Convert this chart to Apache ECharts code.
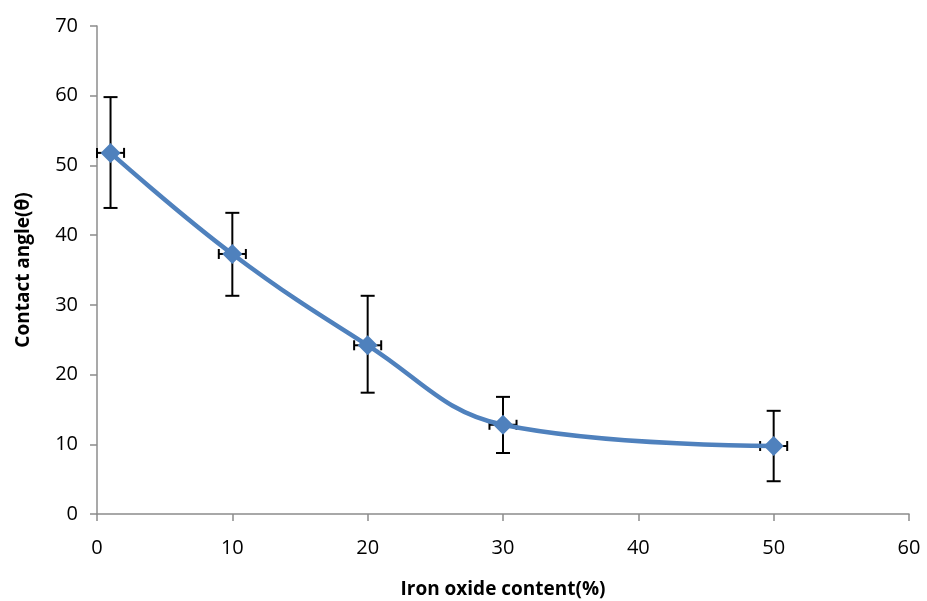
<!DOCTYPE html>
<html>
<head>
<meta charset="utf-8">
<script src="https://cdn.jsdelivr.net/npm/echarts@6/dist/echarts.min.js"></script>
<style>
    html, body { margin: 0; padding: 0; background: #fff; }
    #chart { width: 927px; height: 601px; }
</style>
</head>
<body>
<div id="chart"></div>
<script>
// Data
var ironOxide = [1, 10, 20, 30, 50];
var contactAngle = [51.8, 37.3, 24.2, 12.8, 9.75];
var angleLow = [43.9, 31.3, 17.4, 8.75, 4.7];
var angleHigh = [59.8, 43.2, 31.3, 16.8, 14.8];
var xError = [1, 1, 1, 1, 1];

var points = ironOxide.map(function(x, i) { return [x, contactAngle[i]]; });
var errors = ironOxide.map(function(x, i) {
    return [x, contactAngle[i], angleLow[i], angleHigh[i], xError[i]];
});

var chart = echarts.init(document.getElementById('chart'));

var axisText = { color: '#000', fontSize: 20, fontFamily: 'Open Sans, sans-serif' };

chart.setOption({
    animation: false,
    grid: { left: 97, right: 18, top: 26, bottom: 87, outerBoundsMode: 'none' },
    xAxis: {
        type: 'value',
        min: 0, max: 60, interval: 10,
        name: 'Iron oxide content(%)',
        nameLocation: 'middle',
        nameGap: 66,
        nameTextStyle: { color: '#000', fontSize: 19, fontWeight: 'bold', fontFamily: 'Open Sans, sans-serif' },
        axisLine: { onZero: false, lineStyle: { color: '#8c8c8c', width: 1.5 } },
        axisTick: { inside: false, length: 7, lineStyle: { color: '#8c8c8c', width: 1.5 } },
        axisLabel: Object.assign({ margin: 24 }, axisText),
        splitLine: { show: false }
    },
    yAxis: {
        type: 'value',
        min: 0, max: 70, interval: 10,
        name: 'Contact angle(θ)',
        nameLocation: 'middle',
        nameGap: 64,
        nameTextStyle: { color: '#000', fontSize: 19, fontWeight: 'bold', fontFamily: 'Open Sans, sans-serif' },
        axisLine: { show: true, lineStyle: { color: '#8c8c8c', width: 1.5 } },
        axisTick: { show: true, length: 7, lineStyle: { color: '#8c8c8c', width: 1.5 } },
        axisLabel: Object.assign({ margin: 19 }, axisText),
        splitLine: { show: false }
    },
    series: [
        {
            type: 'line',
            data: points,
            smooth: 0.4,
            symbol: 'diamond',
            symbolSize: 20,
            itemStyle: { color: '#4F81BD' },
            lineStyle: { color: '#4F81BD', width: 4.5 },
            z: 3
        },
        {
            type: 'custom',
            data: errors,
            z: 2,
            renderItem: function(params, api) {
                var x = api.value(0), y = api.value(1);
                var lo = api.coord([x, api.value(2)]);
                var hi = api.coord([x, api.value(3)]);
                var left = api.coord([x - api.value(4), y]);
                var right = api.coord([x + api.value(4), y]);
                var vCap = 7, hCap = 5;
                var style = { stroke: '#000', lineWidth: 2 };
                var line = function(x1, y1, x2, y2) {
                    return { type: 'line', shape: { x1: x1, y1: y1, x2: x2, y2: y2 }, style: style };
                };
                return {
                    type: 'group',
                    children: [
                        line(lo[0], lo[1], hi[0], hi[1]),
                        line(hi[0] - vCap, hi[1], hi[0] + vCap, hi[1]),
                        line(lo[0] - vCap, lo[1], lo[0] + vCap, lo[1]),
                        line(left[0], left[1], right[0], right[1]),
                        line(left[0], left[1] - hCap, left[0], left[1] + hCap),
                        line(right[0], right[1] - hCap, right[0], right[1] + hCap)
                    ]
                };
            }
        }
    ]
});
</script>
</body>
</html>
